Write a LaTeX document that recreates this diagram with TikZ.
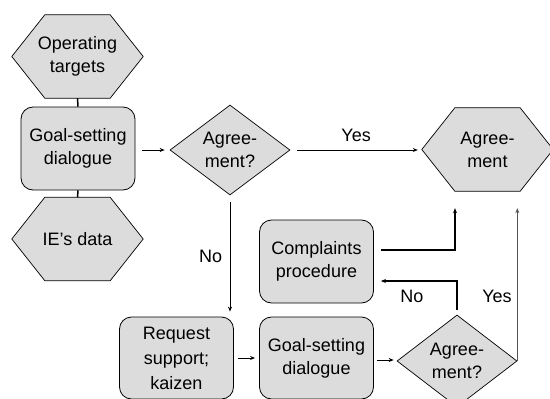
\documentclass[tikz,border=0pt]{standalone}
\usepackage{fontspec}
\setmainfont{Liberation Sans}
\usetikzlibrary{shapes.geometric,arrows.meta,calc,backgrounds}
\definecolor{shapefill}{RGB}{220,220,220}
\definecolor{linegray}{RGB}{85,85,85}
\newcommand{\hexof}[1]{%
  \path[hexshape] (#1.west) -- ($(#1.north west)+(33,0)$) -- ($(#1.north east)+(-33,0)$)
    -- (#1.east) -- ($(#1.south east)+(-33,0)$) -- ($(#1.south west)+(33,0)$) -- cycle;}
\begin{document}
\begin{tikzpicture}[x=1pt,y=-1pt,
  every node/.style={font=\fontsize{18}{23}\selectfont, text=black},
  box/.style={draw=black, line width=0.8pt, fill=shapefill, rounded corners=12pt,
    minimum width=114pt, minimum height=83pt, align=center, inner sep=0pt},
  dia/.style={diamond, draw=black, line width=0.7pt, fill=shapefill, aspect=1.33,
    minimum width=120pt, minimum height=90pt, inner sep=0pt, align=center},
  hexnode/.style={minimum width=131pt, minimum height=83pt, inner sep=0pt, align=center},
  hexshape/.style={draw=black, line width=0.7pt, fill=shapefill},
  conn/.style={line width=0.9pt, black},
  arr/.style={conn, -{Stealth[length=5pt,width=4pt]}},
  lbl/.style={inner sep=0pt}
]
\clip (0,0) rectangle (550,399);
\useasboundingbox (0,0) rectangle (550,399);

\node[hexnode] (ot) at (77.5,56.5) {Operating\\targets};
\node[box] (gs1) at (78,148.5) {Goal-setting\\dialogue};
\node[hexnode] (ie) at (77.5,239) {IE’s data};
\node[dia] (d1) at (230,150) {Agree-\\ment?};
\node[hexnode] (ag) at (487.5,149.5) {Agree-\\ment};
\node[box] (cp) at (316.5,261.5) {Complaints\\procedure};
\node[box, minimum height=82pt] (rs) at (176.5,358) {Request\\[2pt]support;\\[2pt]kaizen};
\node[box, minimum height=82pt] (gs2) at (316.5,358) {Goal-setting\\dialogue};
\node[dia, minimum height=92pt] (d2) at (457,361) {Agree-\\ment?};

\begin{scope}[on background layer]
  \hexof{ot}
  \hexof{ie}
  \hexof{ag}
\end{scope}

\draw[conn, line width=1.5pt] (ot.south) -- (gs1.north);
\draw[conn, line width=1.5pt] (gs1.south) -- (ie.north);
\draw[arr, shorten <=7pt, shorten >=5pt] (d1.west -| gs1.east) -- (d1.west);
\draw[arr, shorten <=7pt, shorten >=4pt] (d1.east) -- (d1.east -| ag.west)
  node[midway, above=5pt] (yes1) {Yes};
\draw[arr, shorten <=7pt, shorten >=5pt] (d1.south) -- (d1.south |- rs.north)
  node[midway, left=4pt] (no1) {No};
\draw[arr, line width=1.3pt, shorten >=17pt] ($(cp.east)+(7,-11.5)$) -| ($(ag.south)+(-32.5,0)$);
\draw[arr, line width=1.3pt, shorten <=5pt, shorten >=7pt] (d2.north) |- ($(cp.east)+(0,19.5)$);
\draw[arr, linegray, line width=1.3pt, shorten >=17pt] (d2.east) -- (d2.east |- ag.south);
\draw[arr, shorten <=4pt, shorten >=4pt] (rs.east) -- (gs2.west);
\draw[arr, shorten <=3pt, shorten >=3pt] ($(gs2.east)+(0,2)$) -- ($(d2.west)+(0,-1)$);

\node[lbl] (no2) at (412,296) {No};
\node[lbl] (yes2) at (497,296) {Yes};
\end{tikzpicture}
\end{document}
